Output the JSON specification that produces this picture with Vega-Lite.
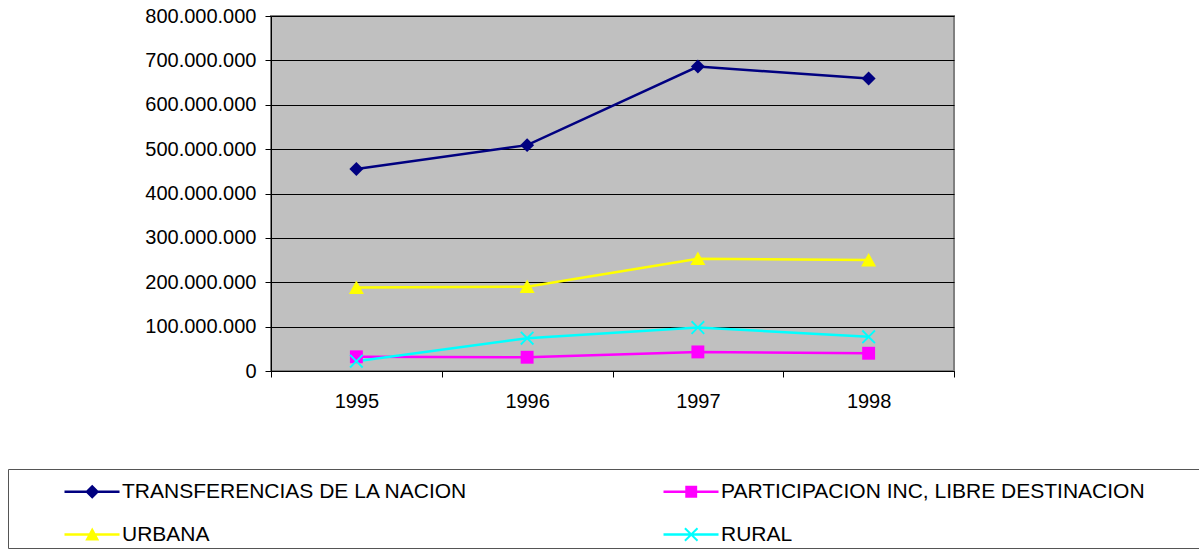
{
  "$schema": "https://vega.github.io/schema/vega-lite/v6.json",
  "width": 683,
  "height": 355,
  "autosize": "none",
  "padding": {"left": 271, "top": 16, "right": 245, "bottom": 183},
  "background": "white",
  "config": {
    "view": {"fill": "#C0C0C0", "stroke": "#808080", "strokeWidth": 2},
    "font": "Liberation Sans"
  },
  "data": {
    "values": [
      {"year": "1995", "serie": "TRANSFERENCIAS DE LA NACION", "value": 455000000},
      {"year": "1996", "serie": "TRANSFERENCIAS DE LA NACION", "value": 509000000},
      {"year": "1997", "serie": "TRANSFERENCIAS DE LA NACION", "value": 686000000},
      {"year": "1998", "serie": "TRANSFERENCIAS DE LA NACION", "value": 659000000},
      {"year": "1995", "serie": "PARTICIPACION INC, LIBRE DESTINACION", "value": 32000000},
      {"year": "1996", "serie": "PARTICIPACION INC, LIBRE DESTINACION", "value": 31000000},
      {"year": "1997", "serie": "PARTICIPACION INC, LIBRE DESTINACION", "value": 43000000},
      {"year": "1998", "serie": "PARTICIPACION INC, LIBRE DESTINACION", "value": 40000000},
      {"year": "1995", "serie": "URBANA", "value": 188000000},
      {"year": "1996", "serie": "URBANA", "value": 190000000},
      {"year": "1997", "serie": "URBANA", "value": 253000000},
      {"year": "1998", "serie": "URBANA", "value": 250000000},
      {"year": "1995", "serie": "RURAL", "value": 22000000},
      {"year": "1996", "serie": "RURAL", "value": 74000000},
      {"year": "1997", "serie": "RURAL", "value": 98000000},
      {"year": "1998", "serie": "RURAL", "value": 77000000}
    ]
  },
  "encoding": {
    "x": {
      "field": "year", "type": "nominal", "title": null,
      "scale": {"type": "band", "paddingInner": 0, "paddingOuter": 0},
      "axis": {
        "tickBand": "extent", "labelAngle": 0, "grid": false,
        "domainColor": "black", "domainWidth": 1, "tickColor": "black", "tickSize": 6,
        "labelFont": "Liberation Sans", "labelFontSize": 20, "labelColor": "black", "labelPadding": 14
      }
    },
    "y": {
      "field": "value", "type": "quantitative", "title": null,
      "scale": {"domain": [0, 800000000], "nice": false, "zero": true},
      "axis": {
        "values": [0, 100000000, 200000000, 300000000, 400000000, 500000000, 600000000, 700000000, 800000000],
        "labelExpr": "replace(format(datum.value, ','), regexp(',', 'g'), '.')",
        "grid": true, "gridColor": "black", "gridWidth": 1, "gridOpacity": 1,
        "domainColor": "black", "domainWidth": 1, "tickColor": "black", "tickSize": 6,
        "labelFont": "Liberation Sans", "labelFontSize": 20, "labelColor": "black", "labelPadding": 9
      }
    },
    "color": {
      "field": "serie", "type": "nominal",
      "scale": {
        "domain": ["TRANSFERENCIAS DE LA NACION", "PARTICIPACION INC, LIBRE DESTINACION", "URBANA", "RURAL"],
        "range": ["#000080", "#FF00FF", "#FFFF00", "#00FFFF"]
      },
      "legend": {
        "orient": "none", "legendX": -263, "legendY": 453,
        "columns": 2, "direction": "horizontal",
        "title": "\u00a0", "titleFontSize": 8, "titlePadding": 1,
        "padding": 3,
        "strokeColor": "#555555", "fillColor": "white",
        "symbolSize": 196, "symbolStrokeWidth": 0, "symbolOffset": 50,
        "labelOffset": 40, "rowPadding": 21, "columnPadding": 142,
        "labelFont": "Liberation Sans", "labelFontSize": 21, "labelColor": "black", "labelLimit": 0,
        "encode": {
          "symbols": {
            "update": {
              "shape": {"signal": "datum.value == 'TRANSFERENCIAS DE LA NACION' ? 'M-1,-0.18L6.86,-0.18L6.86,0.18L-1,0.18ZM2.96,-1L3.96,0L2.96,1L1.96,0Z' : datum.value == 'PARTICIPACION INC, LIBRE DESTINACION' ? 'M-1,-0.18L6.86,-0.18L6.86,0.18L-1,0.18ZM2.11,-0.85L3.81,-0.85L3.81,0.85L2.11,0.85ZM76,0L76,0Z' : datum.value == 'URBANA' ? 'M-1,-0.18L6.86,-0.18L6.86,0.18L-1,0.18ZM2.96,-1L3.96,0.85L1.96,0.85Z' : 'M-1,-0.18L6.86,-0.18L6.86,0.18L-1,0.18ZM1.96,-0.8L2.16,-1L2.96,-0.2L3.76,-1L3.96,-0.8L3.16,0L3.96,0.8L3.76,1L2.96,0.2L2.16,1L1.96,0.8L2.76,0Z'"},
              "fill": {"signal": "scale('color', datum.value)"},
              "stroke": {"value": "transparent"},
              "opacity": {"value": 1}
            }
          }
        }
      }
    }
  },
  "layer": [
    {
      "mark": {"type": "line", "strokeWidth": 2.5}
    },
    {
      "transform": [{"filter": "datum.serie == 'TRANSFERENCIAS DE LA NACION'"}],
      "mark": {"type": "point", "filled": true, "opacity": 1, "size": 225, "shape": "M0,-0.93L0.93,0L0,0.93L-0.93,0Z"}
    },
    {
      "transform": [{"filter": "datum.serie == 'PARTICIPACION INC, LIBRE DESTINACION'"}],
      "mark": {"type": "point", "filled": true, "opacity": 1, "size": 225, "shape": "M-0.86,-0.86L0.86,-0.86L0.86,0.86L-0.86,0.86Z"}
    },
    {
      "transform": [{"filter": "datum.serie == 'URBANA'"}],
      "mark": {"type": "point", "filled": true, "opacity": 1, "size": 225, "shape": "M0,-0.95L1,0.85L-1,0.85Z"}
    },
    {
      "transform": [{"filter": "datum.serie == 'RURAL'"}],
      "mark": {"type": "point", "filled": true, "opacity": 1, "size": 225, "shape": "M-0.93,-0.75L-0.75,-0.93L0,-0.18L0.75,-0.93L0.93,-0.75L0.18,0L0.93,0.75L0.75,0.93L0,0.18L-0.75,0.93L-0.93,0.75L-0.18,0Z"}
    }
  ]
}
